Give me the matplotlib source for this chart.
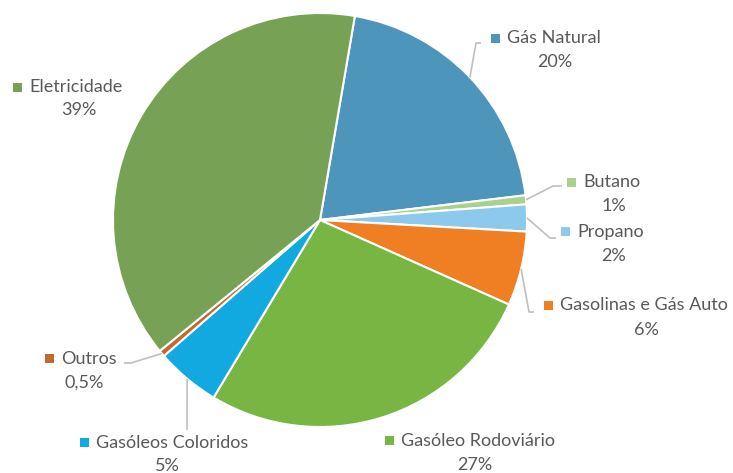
import matplotlib.pyplot as plt
import numpy as np

# data (clockwise from the top)
labels = ['Gás Natural', 'Butano', 'Propano', 'Gasolinas e Gás Auto',
          'Gasóleo Rodoviário', 'Gasóleos Coloridos', 'Outros', 'Eletricidade']
values = [20.4, 0.7, 2.1, 5.8, 26.9, 5.0, 0.5, 38.6]
pct_text = ['20%', '1%', '2%', '6%', '27%', '5%', '0,5%', '39%']
colors = ['#4E95BB', '#A9D18E', '#8DC9EC', '#F07E22', '#78B543',
          '#12A9E0', '#C06A30', '#77A155']

W, H = 733, 473
fig = plt.figure(figsize=(W / 100, H / 100), dpi=100)
ax = fig.add_axes([0, 0, 1, 1])

cx, cy, r = 320, H - 220, 207
start = 80.3
wedges, _ = ax.pie(values, colors=colors, startangle=start, counterclock=False,
                   center=(cx, cy), radius=r, frame=True,
                   wedgeprops=dict(edgecolor='white', linewidth=1.5))
ax.set_xlim(0, W)
ax.set_ylim(0, H)
ax.set_aspect('equal')
ax.axis('off')

# label layout: (square x, text y, pct x, pct y, leader points) in pixel coords
lay = [
    (495, 38, 555, 62, [(476, 43), (481, 43)]),
    (571, 182, 614, 206, [(553, 186), (562, 186)]),
    (565, 232, 614, 256, [(550, 238), (556, 238)]),
    (548, 305, 646, 330, [(529, 312), (534, 312)]),
    (389, 441, 475, 465, None),
    (84, 443, 167, 466, [(187, 430)]),
    (49, 359, 84, 383, [(131, 363), (124, 363)]),
    (17, 87, 79, 110, None),
]

txt = '#595959'
fnt = 'Lato'
fs = 13
tot = sum(values)
ang = start
for i, w in enumerate(wedges):
    span = values[i] / tot * 360
    mid = np.deg2rad(ang - span / 2)
    ang -= span
    sx, ty, px, py, lead = lay[i]
    ax.add_patch(plt.Rectangle((sx - 4.5, H - ty - 4.5), 9, 9, color=colors[i], lw=0))
    ax.text(sx + 12, H - ty, labels[i], fontsize=fs, family=fnt, color=txt,
            va='center', ha='left')
    ax.text(px, H - py, pct_text[i], fontsize=fs, family=fnt, color=txt,
            va='center', ha='center')
    if lead:
        x0 = cx + r * np.cos(mid)
        y0 = cy + r * np.sin(mid)
        xs = [x0] + [p[0] for p in lead]
        ys = [y0] + [H - p[1] for p in lead]
        ax.plot(xs, ys, color='#BFBFBF', lw=1.2, solid_capstyle='butt')

fig.savefig('out.png', dpi=100)
